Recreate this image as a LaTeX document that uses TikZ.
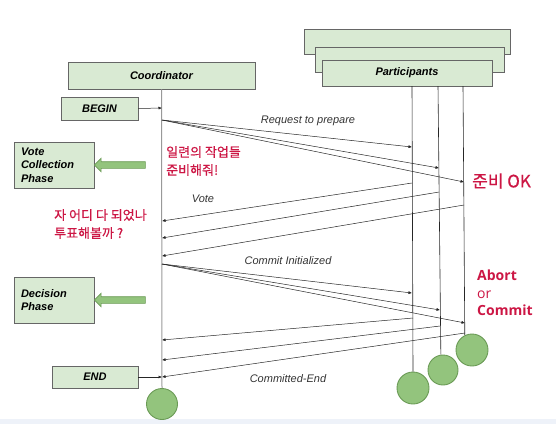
\documentclass[tikz,border=0pt]{standalone}
\usepackage{fontspec}
\setmainfont{Liberation Sans}
\newfontfamily\krfont[FakeBold=0.5]{Noto Sans CJK KR}
\newfontfamily\decidefont{Open Sans}
\usetikzlibrary{arrows.meta,shapes.arrows}

\definecolor{boxGreen}{HTML}{D9EAD3}
\definecolor{boxEdge}{HTML}{666666}
\definecolor{ballGreen}{HTML}{93C47D}
\definecolor{ballEdge}{HTML}{6A9A55}
\definecolor{lifeGray}{HTML}{999999}
\definecolor{noteRed}{RGB}{204,22,68}
\definecolor{stripBlue}{RGB}{238,242,249}
\definecolor{strokecol}{rgb}{0.15,0.15,0.15}

\tikzset{
  phasebox/.style={draw=boxEdge, fill=boxGreen, line width=0.9pt, inner sep=0,
    font=\fontsize{11}{13.3}\selectfont\bfseries\itshape},
  ball/.style={circle, draw=ballEdge, fill=ballGreen, line width=0.9pt, inner sep=0},
  blockarrow/.style={single arrow, shape border rotate=180, draw=ballEdge, fill=ballGreen,
    line width=0.6pt, minimum height=51pt, inner xsep=0pt, inner ysep=3pt, single arrow head extend=3.5pt},
  msg/.style={draw=strokecol, line width=0.5pt, -{Latex[length=3.5pt,width=3pt]}},
  msglabel/.style={font=\fontsize{11}{13}\selectfont\itshape, text=black!80, inner sep=1},
  note/.style={text=noteRed, align=left, inner sep=0, anchor=west},
}

\begin{document}
\begin{tikzpicture}[x=1pt, y=-1pt]

    \useasboundingbox (0,0) rectangle (556,424);
    \fill[stripBlue] (0,419) rectangle (556,424);

    % coordinator side
    \node[phasebox, minimum width=187pt, minimum height=27pt] (coord) at (161.5,75.5) {Coordinator};
    \node[phasebox, minimum width=77pt, minimum height=23pt] (begin) at (99.5,108.5) {BEGIN};
    \node[phasebox, minimum width=86pt, minimum height=22pt] (end) at (95,377) {END};
    \node[phasebox, minimum width=80pt, minimum height=46pt, text width=66pt, align=left] (vcPhase) at (54,165) {Vote\\Collection\\Phase};
    \node[phasebox, minimum width=80pt, minimum height=46pt, text width=66pt, align=left] (dcPhase) at (54,300) {Decision\\Phase};

    \node[blockarrow] (vcArrow) at (121.5,165) {};
    \node[blockarrow] (dcArrow) at (121.5,300) {};

    \node[ball, minimum size=31pt] (cc) at (162,404) {};
    \draw[draw=lifeGray, line width=1pt] (coord.south) -- (cc.north);

    % participants, stacked
    \node[phasebox, minimum width=206pt, minimum height=25pt] (partBack) at (407,41.5) {};
    \node[phasebox, minimum width=189pt, minimum height=25pt] (partMid) at (409.5,59.5) {};
    \node[phasebox, minimum width=170pt, minimum height=26pt] (part) at (407,73) {Participants};

    \node[ball, minimum size=32pt] (c1) at (413,388) {};
    \node[ball, minimum size=30pt] (c2) at (443,370) {};
    \node[ball, minimum size=32pt] (c3) at (472,350) {};

    \coordinate (p1top) at (412,86);
    \coordinate (p2top) at (438,86);
    \coordinate (p3top) at (463,86);
    \draw[draw=strokecol, line width=0.6pt] (p1top) -- (c1.north);
    \draw[draw=strokecol, line width=0.6pt] (p2top) -- (c2.98);
    \draw[draw=strokecol, line width=0.6pt] (p3top) -- (c3.116);

    % begin / end
    \coordinate (bg) at (162,108);
    \coordinate (ed) at (162,377);
    \draw[msg] (begin.east) -- (bg);
    \draw[msg] (end.east) -- (ed);

    % request to prepare
    \coordinate (rq) at (162,120);
    \coordinate (rq1) at (412,147);
    \coordinate (rq2) at (439,168);
    \coordinate (rq3) at (464,182);
    \draw[msg] (rq) -- (rq1);
    \draw[msg] (rq) -- (rq2);
    \draw[msg] (rq) -- (rq3);
    \node[msglabel] (rqLabel) at (308,121) {Request to prepare};

    % votes
    \coordinate (vt1) at (412,183);
    \coordinate (vt2) at (439,192);
    \coordinate (vt3) at (464,205);
    \coordinate (vc1) at (162,221);
    \coordinate (vc2) at (162,238);
    \coordinate (vc3) at (162,256);
    \draw[msg] (vt1) -- (vc1);
    \draw[msg] (vt2) -- (vc2);
    \draw[msg] (vt3) -- (vc3);
    \node[msglabel] (vtLabel) at (203,199) {Vote};

    % commit initialized
    \coordinate (ci) at (162,264);
    \coordinate (ci1) at (412,293);
    \coordinate (ci2) at (440,310);
    \coordinate (ci3) at (465,323);
    \draw[msg] (ci) -- (ci1);
    \draw[msg] (ci) -- (ci2);
    \draw[msg] (ci) -- (ci3);
    \node[msglabel] (ciLabel) at (288,261) {Commit Initialized};

    % committed-end
    \coordinate (ak1) at (413,318);
    \coordinate (ak2) at (440,326);
    \coordinate (ak3) at (465,333);
    \coordinate (ac1) at (162,340);
    \coordinate (ac2) at (162,360);
    \draw[msg] (ak1) -- (ac1);
    \draw[msg] (ak2) -- (ac2);
    \draw[msg] (ak3) -- (ed);
    \node[msglabel] (akLabel) at (288,379) {Committed-End};

    % red notes
    \node[note, font=\krfont\fontsize{13}{18}\selectfont] (noteReq) at (166,161) {일련의 작업들\\준비해줘!};
    \node[note, font=\krfont\fontsize{13}{18}\selectfont] (noteVote) at (54,224) {자 어디 다 되었나\\투표해볼까 ?};
    \node[note, font=\krfont\fontsize{17}{20}\selectfont] (noteOk) at (472,181) {준비 OK};
    \node[note, font=\decidefont\fontsize{14}{17.5}\selectfont] (noteDecide) at (477,293) {\textbf{Abort}\\or\\\textbf{Commit}};

\end{tikzpicture}
\end{document}
